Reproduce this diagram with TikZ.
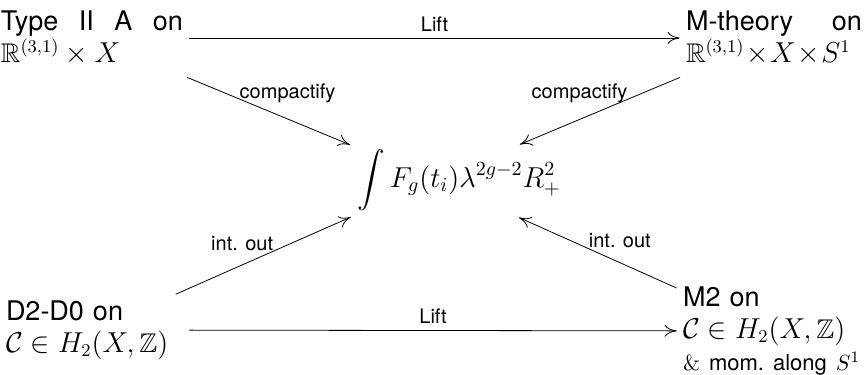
\documentclass[tikz,border=0pt]{standalone}
\usepackage{amsmath, amssymb}
\usepackage[no-math]{fontspec}
\setmainfont{TeX Gyre Heros}
\usetikzlibrary{arrows.meta, calc}

\begin{document}
\begin{tikzpicture}[x=0.5pt, y=-0.5pt,
    >={Computer Modern Rightarrow[length=6pt, width=6pt]},
    thnode/.style={font=\fontsize{13.5}{16}\selectfont, inner sep=3pt, align=left},
    lbl/.style={font=\fontsize{10}{12}\selectfont, inner sep=3pt}]
  \useasboundingbox (0,0) rectangle (865,374);

  % Theories in the four corners
  \node[thnode, text width=91pt, minimum height=39pt] (tl) at (92,38)
    {Type\hfill II\hfill A\hfill on\\ $\mathbb{R}^{(3,1)}\times X$};
  \node[thnode, text width=88pt, minimum height=39pt] (tr) at (774,38)
    {M-theory\hfill on\\ $\mathbb{R}^{(3,1)}\!\times\! X\!\times\! S^1$};
  \node[thnode, text width=88.5pt] (bl) at (94.5,330)
    {D2-D0 on\\ $\mathcal{C}\in H_2(X,\mathbb{Z})$};
  \node[thnode, text width=90pt] (br) at (773,331)
    {M2 on\\ $\mathcal{C}\in H_2(X,\mathbb{Z})$\\
     \fontsize{11}{14}\selectfont $\&$ mom.\ along $S^1$};

  % Common result
  \node[font=\fontsize{13.8}{17}\selectfont] (fint) at (459,180)
    {$\displaystyle\int F_g(t_i)\lambda^{2g-2}R_+^2$};
  \coordinate (hub) at (435,180);

  % Lifts
  \draw[->] (tl) -- node[lbl, above] {Lift} (tr);
  \draw[->] (bl) -- node[lbl, above] {Lift} (br);

  % Reductions to the integral
  \draw[->, shorten >=46pt] (tl) -- node[lbl, pos=0.405, above=5pt] {compactify} (hub);
  \draw[->, shorten >=46pt] (tr) -- node[lbl, pos=0.41, above=5pt] {compactify} (hub);
  \draw[->, shorten >=46pt] (bl) -- node[lbl, pos=0.256, above=4pt] {int. out} (hub);
  \draw[->, shorten >=46pt] (br) -- node[lbl, pos=0.235, above=4pt] {int. out} (hub);
\end{tikzpicture}
\end{document}
